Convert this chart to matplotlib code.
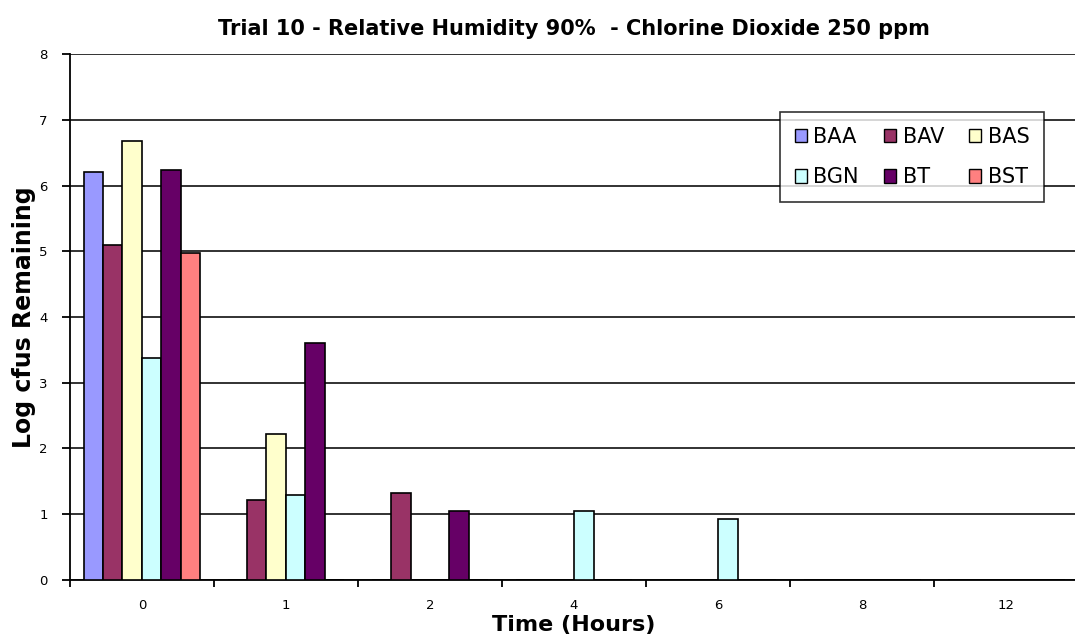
import numpy as np
import matplotlib.pyplot as plt
from matplotlib.patches import Patch

plt.rcParams['font.family'] = ['DejaVu Sans']

# data
times = ['0', '1', '2', '4', '6', '8', '12']
series = ['BAA', 'BAV', 'BAS', 'BGN', 'BT', 'BST']
baa = [6.2, 0, 0, 0, 0, 0, 0]
bav = [5.1, 1.21, 1.33, 0, 0, 0, 0]
bas = [6.68, 2.22, 0, 0, 0, 0, 0]
bgn = [3.37, 1.29, 0, 1.05, 0.92, 0, 0]
bt = [6.23, 3.6, 1.05, 0, 0, 0, 0]
bst = [4.98, 0, 0, 0, 0, 0, 0]
colors = ['#9999FF', '#993366', '#FFFFCC', '#CCFFFF', '#660066', '#FF8080']

values = [baa, bav, bas, bgn, bt, bst]

fig = plt.figure(figsize=(10.75, 6.43), dpi=100)
ax = fig.add_axes([0.065, 0.098, 0.938, 0.818])

x = np.arange(len(times))
w = 1 / 7.4
for i, (name, vals) in enumerate(zip(series, values)):
    pos = x + (i - 2.5) * w
    ax.bar(pos, vals, width=w, color=colors[i], edgecolor='black', linewidth=1.2,
           label=name, zorder=3)

ax.set_xlim(-0.5, len(times) - 0.5)
ax.set_ylim(0, 8)
ax.set_yticks(range(9))
ax.set_yticklabels([str(v) for v in range(9)], fontsize=9.5)
ax.yaxis.grid(True, color='#222222', linewidth=1.3, zorder=0)
ax.set_axisbelow(True)

# category labels centred, ticks on the boundaries
ax.set_xticks(x)
ax.set_xticklabels(times, fontsize=9.5)
ax.tick_params(axis='x', length=0, pad=14)
ax.set_xticks(np.arange(-0.5, len(times) + 0.5, 1), minor=True)
ax.tick_params(axis='x', which='minor', length=5, width=1.3, direction='out')
ax.tick_params(axis='y', length=6, width=1.3, direction='out', pad=10)

for s in ['top', 'right']:
    ax.spines[s].set_visible(False)
ax.spines['left'].set_linewidth(1.3)
ax.spines['bottom'].set_linewidth(1.3)

ax.set_xlabel('Time (Hours)', fontsize=16, fontweight='bold', labelpad=2)
ax.set_ylabel('Log cfus Remaining', fontsize=17, fontweight='bold', labelpad=2)
ax.set_title('Trial 10 - Relative Humidity 90%  - Chlorine Dioxide 250 ppm',
             fontsize=15, fontweight='bold', pad=14)

order = [0, 3, 1, 4, 2, 5]
handles = [Patch(facecolor=colors[i], edgecolor='black', label=series[i]) for i in order]
leg = ax.legend(handles=handles, ncol=3, loc='upper left', bbox_to_anchor=(780 / 1075, 1 - 112 / 643),
                bbox_transform=fig.transFigure,
                fontsize=15, frameon=True, fancybox=False, edgecolor='black',
                handlelength=0.6, handleheight=0.6, handletextpad=0.3,
                columnspacing=1.2, labelspacing=1.0, borderpad=0.7, borderaxespad=0)
leg.get_frame().set_linewidth(1.2)

fig.savefig('out.png', dpi=100)
